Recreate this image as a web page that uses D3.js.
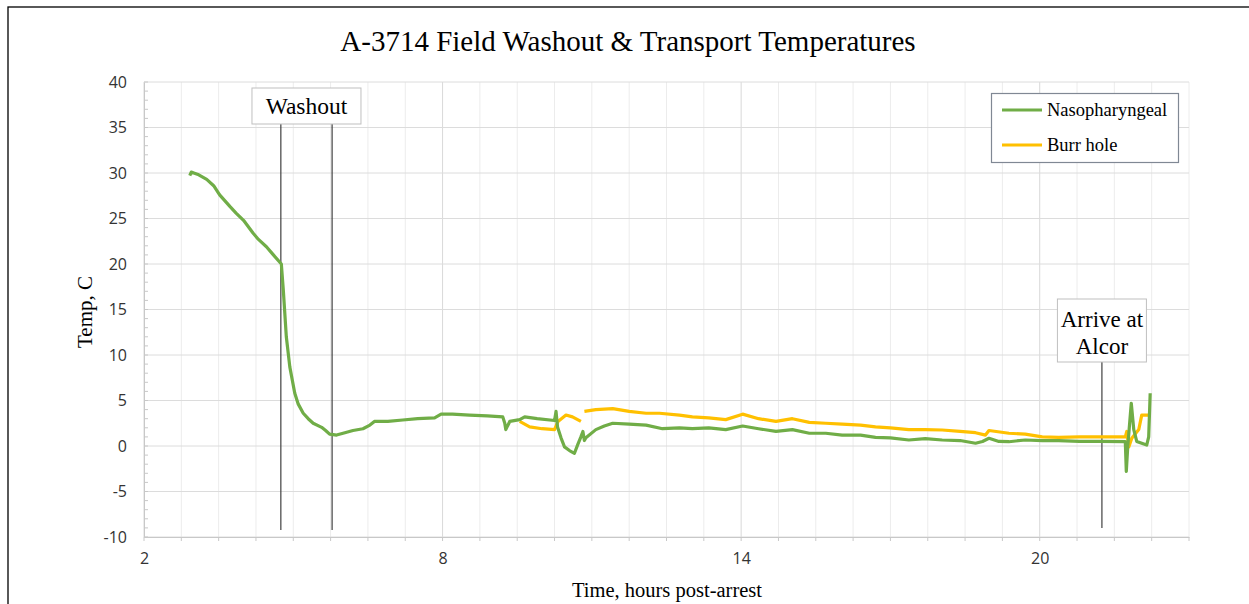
<!DOCTYPE html>
<html><head><meta charset="utf-8">
<script src="https://cdn.jsdelivr.net/npm/d3@7"></script>
<style>body{margin:0;background:#fff}svg{display:block}</style>
</head><body>
<svg id="c" width="1249" height="604"></svg>
<script>
const title = "A-3714 Field Washout & Transport Temperatures";
const xTickLabels = [2, 8, 14, 20];
const yTickLabels = [-10, -5, 0, 5, 10, 15, 20, 25, 30, 35, 40];
const seriesNames = ["Nasopharyngeal", "Burr hole"];
const seriesColors = ["#70AD47", "#FFC000"];

const nasoHours = [2.92,2.95,3.0,3.1,3.26,3.4,3.52,3.73,3.85,4.0,4.19,4.3,4.46,4.6,4.76,4.8,4.86,4.93,5.03,5.1,5.2,5.3,5.4,5.57,5.65,5.73,5.87,6.0,6.2,6.4,6.54,6.63,6.9,7.2,7.5,7.84,7.97,8.2,8.54,8.9,9.21,9.25,9.27,9.35,9.55,9.65,9.9,10.25,10.28,10.31,10.38,10.45,10.55,10.65,10.72,10.78,10.82,10.85,10.88,11.08,11.25,11.42,11.75,12.09,12.42,12.76,13.02,13.35,13.69,14.03,14.35,14.7,15.03,15.37,15.7,16.03,16.4,16.7,17.0,17.37,17.7,18.04,18.4,18.71,18.85,18.98,19.18,19.38,19.71,20.05,20.38,20.8,21.2,21.72,21.74,21.77,21.84,21.89,21.95,22.05,22.15,22.19,22.22];
const nasoTemp  = [29.7,30.1,30.0,29.8,29.3,28.6,27.6,26.3,25.6,24.8,23.4,22.7,21.9,21.0,20.0,17.1,12.0,8.7,5.8,4.6,3.6,3.0,2.5,2.05,1.7,1.3,1.2,1.4,1.7,1.9,2.3,2.7,2.7,2.86,3.0,3.1,3.5,3.5,3.4,3.3,3.2,2.5,1.8,2.7,2.9,3.2,3.0,2.8,3.8,2.1,0.9,-0.1,-0.5,-0.8,0.2,1.0,1.6,0.6,0.9,1.8,2.2,2.5,2.4,2.3,1.9,2.0,1.9,2.0,1.8,2.2,1.9,1.6,1.8,1.4,1.4,1.2,1.2,0.95,0.9,0.66,0.8,0.66,0.6,0.3,0.5,0.85,0.5,0.47,0.66,0.6,0.6,0.5,0.5,0.47,-2.8,0.0,4.7,1.8,0.5,0.3,0.1,1.0,5.8];

const burrHours = [9.55,9.75,10.0,10.25,10.32,10.48,10.61,10.78,10.8,10.85,11.08,11.42,11.75,12.09,12.36,12.76,13.02,13.35,13.69,14.03,14.35,14.7,15.03,15.37,15.7,16.03,16.4,16.7,17.0,17.37,17.7,18.04,18.4,18.71,18.91,18.98,19.38,19.71,20.05,20.38,20.8,21.2,21.72,21.75,21.79,21.85,21.99,22.05,22.19,22.23];
const burrTemp  = [2.7,2.1,1.9,1.8,2.7,3.4,3.2,2.7,null,3.8,4.0,4.1,3.8,3.6,3.6,3.4,3.2,3.1,2.9,3.5,3.0,2.7,3.0,2.6,2.5,2.4,2.3,2.1,2.0,1.8,1.8,1.76,1.6,1.46,1.2,1.7,1.4,1.3,1.0,0.95,1.0,1.0,1.0,1.6,-0.1,0.85,1.8,3.4,3.4,3.4];

const markerHours = [4.75, 5.78, 21.25];

const svg = d3.select("#c");
const L = 144, R = 1189, T = 82, B = 537;
const x = d3.scaleLinear().domain([2, 23]).range([L, R]);
const y = d3.scaleLinear().domain([-10, 40]).range([B, T]);

// outer frame
svg.append("rect").attr("x", 8).attr("y", 7).attr("width", 1300).attr("height", 700)
  .attr("fill", "none").attr("stroke", "#000").attr("stroke-width", 1.3);

// vertical gridlines every 0.75
const vg = d3.range(2, 23.001, 0.75);
svg.append("g").selectAll("line").data(vg).join("line")
  .attr("x1", d => x(d)).attr("x2", d => x(d)).attr("y1", T).attr("y2", B)
  .attr("stroke", d => xTickLabels.includes(d) ? "#d9d9d9" : "#ececec").attr("stroke-width", 1);
// horizontal gridlines
svg.append("g").selectAll("line").data(yTickLabels).join("line")
  .attr("x1", L).attr("x2", R).attr("y1", d => y(d)).attr("y2", d => y(d))
  .attr("stroke", "#dcdcdc").attr("stroke-width", 1);

const sans = "Open Sans, Liberation Sans, sans-serif";
// y axis
const yAxis = d3.axisLeft(y).tickValues(yTickLabels).tickSize(0).tickPadding(17).tickFormat(d => String(d));
const gy = svg.append("g").attr("transform", `translate(${L},0)`).call(yAxis);
gy.select(".domain").attr("stroke", "#c8c8c8");
gy.selectAll("text").attr("font-family", sans).attr("font-size", 16).attr("fill", "#333");
// minor y ticks
svg.append("g").selectAll("line").data(d3.range(-10, 40.001, 1)).join("line")
  .attr("x1", L).attr("x2", L + 4).attr("y1", d => y(d)).attr("y2", d => y(d))
  .attr("stroke", "#c8c8c8");

// x axis
const xAxis = d3.axisBottom(x).tickValues(xTickLabels).tickSize(0).tickPadding(16).tickFormat(d => String(d));
const gx = svg.append("g").attr("transform", `translate(0,${B})`).call(xAxis);
gx.select(".domain").attr("stroke", "#c8c8c8");
gx.selectAll("text").attr("font-family", sans).attr("font-size", 16).attr("fill", "#333");
svg.append("g").selectAll("line").data(vg).join("line")
  .attr("x1", d => x(d)).attr("x2", d => x(d)).attr("y1", B).attr("y2", B + 4)
  .attr("stroke", "#c8c8c8");

// marker lines
const mTop = [124, 124, 362], mBot = [530, 530, 528];
svg.append("g").selectAll("line").data(markerHours).join("line")
  .attr("x1", d => x(d)).attr("x2", d => x(d)).attr("y1", (d, i) => mTop[i]).attr("y2", (d, i) => mBot[i])
  .attr("stroke", "#404040").attr("stroke-width", 1.2);

// series
const line = d3.line().defined(d => d[1] !== null).x(d => x(d[0])).y(d => y(d[1]));
const naso = nasoHours.map((h, i) => [h, nasoTemp[i]]);
const burr = burrHours.map((h, i) => [h, burrTemp[i]]);
svg.append("path").datum(burr).attr("d", line).attr("fill", "none")
  .attr("stroke", seriesColors[1]).attr("stroke-width", 3.2).attr("stroke-linejoin", "round");
svg.append("path").datum(naso).attr("d", line).attr("fill", "none")
  .attr("stroke", seriesColors[0]).attr("stroke-width", 3.2).attr("stroke-linejoin", "round");

const serif = "Liberation Serif, Times New Roman, serif";
// title
svg.append("text").attr("x", 628).attr("y", 51).attr("text-anchor", "middle")
  .attr("font-family", serif).attr("font-size", 29).attr("fill", "#000").text(title);
// axis titles
svg.append("text").attr("transform", "translate(92,312) rotate(-90)").attr("text-anchor", "middle")
  .attr("font-family", serif).attr("font-size", 21).attr("fill", "#000").text("Temp, C");
svg.append("text").attr("x", 667).attr("y", 597).attr("text-anchor", "middle")
  .attr("font-family", serif).attr("font-size", 20.5).attr("fill", "#000").text("Time, hours post-arrest");

// Washout label
const wx = (x(markerHours[0]) + x(markerHours[1])) / 2;
svg.append("rect").attr("x", wx - 54.5).attr("y", 88).attr("width", 109).attr("height", 36)
  .attr("fill", "#fff").attr("stroke", "#bfbfbf");
svg.append("text").attr("x", wx).attr("y", 114).attr("text-anchor", "middle")
  .attr("font-family", serif).attr("font-size", 23.5).attr("fill", "#000").text("Washout");

// Arrive label
const ax = x(markerHours[2]);
svg.append("rect").attr("x", ax - 44.5).attr("y", 299).attr("width", 89).attr("height", 63)
  .attr("fill", "#fff").attr("stroke", "#bfbfbf");
svg.append("text").attr("x", ax).attr("y", 327).attr("text-anchor", "middle")
  .attr("font-family", serif).attr("font-size", 23).attr("fill", "#000").text("Arrive at");
svg.append("text").attr("x", ax).attr("y", 354).attr("text-anchor", "middle")
  .attr("font-family", serif).attr("font-size", 23).attr("fill", "#000").text("Alcor");

// legend
svg.append("rect").attr("x", 991.5).attr("y", 93.5).attr("width", 187).attr("height", 69)
  .attr("fill", "#fff").attr("stroke", "#808894").attr("stroke-width", 1.2);
seriesNames.forEach((n, i) => {
  const ly = 110 + i * 35;
  svg.append("line").attr("x1", 1002).attr("x2", 1042).attr("y1", ly).attr("y2", ly)
    .attr("stroke", seriesColors[i]).attr("stroke-width", 3);
  svg.append("text").attr("x", 1047).attr("y", ly + 6).attr("font-family", serif)
    .attr("font-size", 18.5).attr("fill", "#000").text(n);
});
</script>
</body></html>
